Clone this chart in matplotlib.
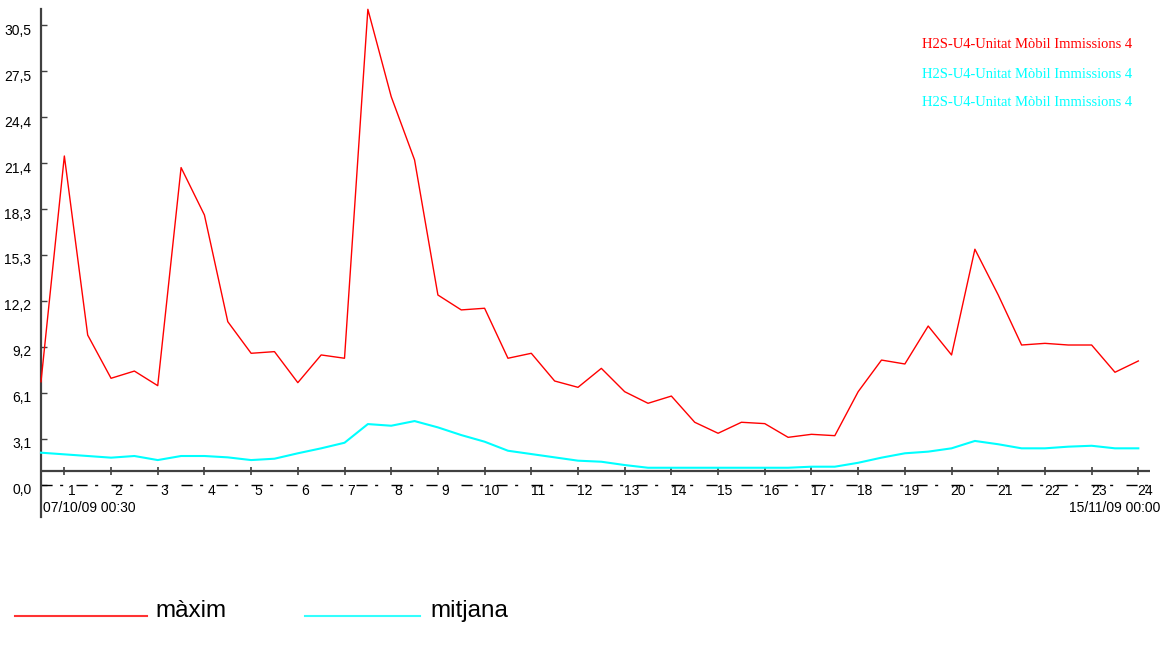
import numpy as np
import matplotlib.pyplot as plt
from matplotlib.lines import Line2D
from matplotlib.transforms import ScaledTranslation

# half-day samples, H2S (ug/m3)
maxim = [6.83, 21.82, 9.93, 7.06, 7.54, 6.57, 21.05, 17.90, 10.82, 8.72, 8.83, 6.77,
         8.61, 8.39, 31.56, 25.76, 21.56, 12.59, 11.60, 11.71, 8.39, 8.72, 6.88, 6.46,
         7.72, 6.17, 5.40, 5.88, 4.14, 3.41, 4.14, 4.05, 3.14, 3.34, 3.25, 6.17,
         8.27, 8.01, 10.53, 8.61, 15.63, 12.59, 9.27, 9.38, 9.27, 9.27, 7.46, 8.21]
mitjana = [2.12, 2.01, 1.90, 1.79, 1.90, 1.63, 1.90, 1.90, 1.81, 1.63, 1.72, 2.08,
           2.41, 2.78, 4.02, 3.91, 4.22, 3.80, 3.29, 2.85, 2.25, 2.03, 1.81, 1.59,
           1.52, 1.30, 1.12, 1.12, 1.12, 1.12, 1.12, 1.12, 1.12, 1.19, 1.19, 1.45,
           1.79, 2.08, 2.19, 2.41, 2.90, 2.68, 2.41, 2.41, 2.52, 2.58, 2.41, 2.41]
ytick_vals = [0.0, 3.05, 6.1, 9.15, 12.2, 15.25, 18.3, 21.35, 24.4, 27.45, 30.5]
ytick_labels = ["0,0", "3,1", "6,1", "9,2", "12,2", "15,3", "18,3", "21,4", "24,4", "27,5", "30,5"]
xtick_labels = [str(k) for k in range(1, 25)]
date_start = "07/10/09 00:30"
date_end = "15/11/09 00:00"
series_name = "H2S-U4-Unitat Mòbil Immissions 4"

W, H = 1165, 646
axis_col = "#404040"
narrow = ["Liberation Sans", "DejaVu Sans"]
plt.rcParams["lines.scale_dashes"] = False

fig = plt.figure(figsize=(W / 100, H / 100), dpi=100)
ax = fig.add_axes([41 / W, 1 - 517 / H, (1150 - 41) / W, (517 - 9) / H])
ax.set_xlim(0, 47.5)
ax.set_ylim(-2.15, 31.58)
for s in ["top", "right", "bottom"]:
    ax.spines[s].set_visible(False)
ax.spines["left"].set_color(axis_col)
ax.spines["left"].set_linewidth(1.6)

x = np.arange(len(maxim))
ax.plot(x, mitjana, color="#00FFFF", lw=1.5, clip_on=False, zorder=3)
ax.plot(x, maxim, color="#FF0000", lw=1.0, clip_on=False, zorder=4)

# y axis
ax.set_yticks(ytick_vals)
ax.set_yticklabels(ytick_labels, family=narrow, fontsize=10)
ax.tick_params(axis="y", direction="in", length=4, width=1, color=axis_col, pad=7)
off = ScaledTranslation(0, -4 / 100, fig.dpi_scale_trans)
for lab in ax.get_yticklabels():
    lab.set_transform(lab.get_transform() + off)
ax.set_xticks([])

# horizontal axis line with tick marks
level = 0.92
ax.axhline(level, color=axis_col, lw=1.6)
tick_pos = [2 * k - 1 for k in range(1, 25)]
ax.vlines(tick_pos, level - 0.27, level + 0.27, color=axis_col, lw=1.2)

# dashed zero line with labels
ax.axhline(0, color="black", lw=1.0, linestyle=(0, (8, 5.4, 2.2, 9.6)))
for p, lab in zip(tick_pos, xtick_labels):
    ax.text(p + 0.3, -0.4, lab, ha="center", va="center", family=narrow, fontsize=10)

fig.text(43 / W, 1 - 508 / H, date_start, ha="left", va="center", family=narrow, fontsize=10)
fig.text(1160 / W, 1 - 508 / H, date_end, ha="right", va="center", family=narrow, fontsize=10)

# top-right labels
for yy, c in [(45, "#FF0000"), (75, "#00FFFF"), (103, "#00FFFF")]:
    fig.text(922 / W, 1 - yy / H, series_name, color=c, ha="left", va="center",
             family=["Liberation Serif", "DejaVu Serif"], fontsize=10.5)

# bottom legend
fig.add_artist(Line2D([15 / W, 147 / W], [1 - 616 / H] * 2, color="#FF3333", lw=1.5))
fig.text(155 / W, 1 - 617 / H, "màxim", ha="left", va="baseline",
         family=["Liberation Sans", "DejaVu Sans"], fontsize=17.5)
fig.add_artist(Line2D([305 / W, 420 / W], [1 - 616 / H] * 2, color="#33FFFF", lw=1.5))
fig.text(430 / W, 1 - 617 / H, "mitjana", ha="left", va="baseline",
         family=["Liberation Sans", "DejaVu Sans"], fontsize=17.5)

fig.savefig("out.png", dpi=100)
